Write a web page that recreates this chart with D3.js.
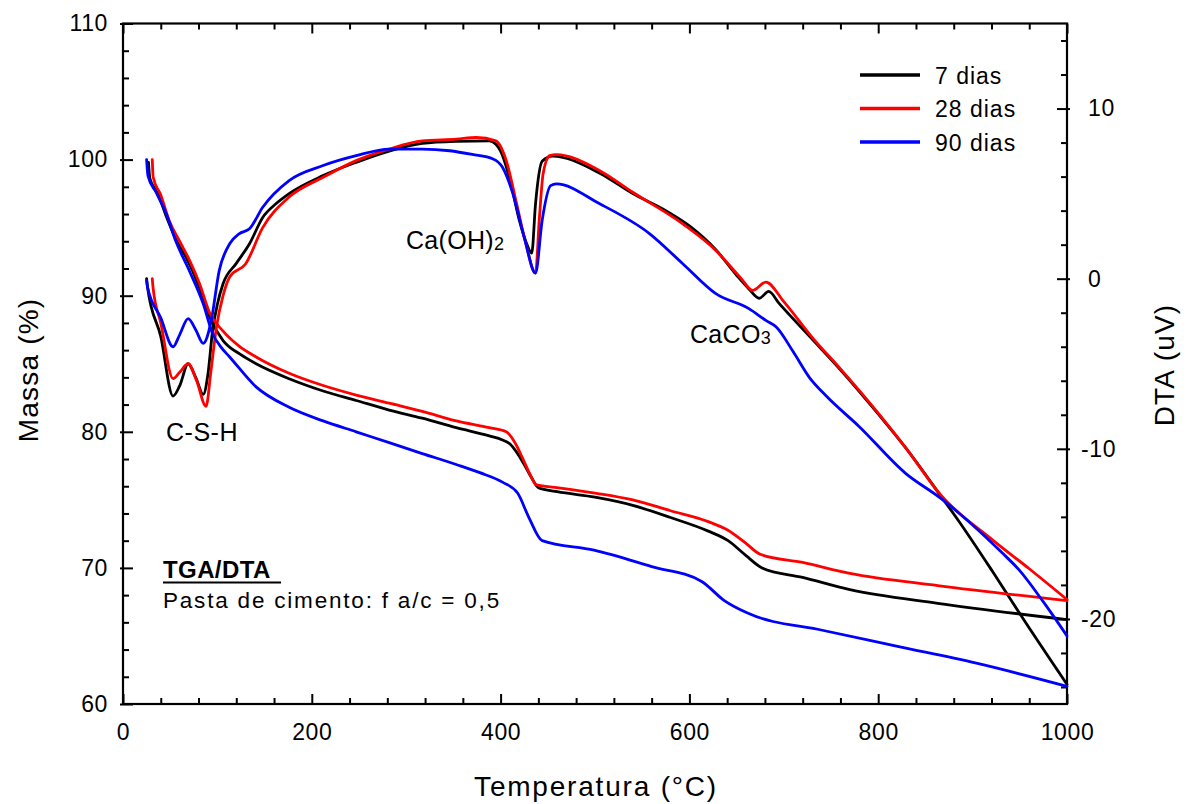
<!DOCTYPE html>
<html><head><meta charset="utf-8">
<script src="https://cdn.jsdelivr.net/npm/d3@7"></script>
<style>
body{margin:0;background:#fff;}
svg{display:block;font-family:"Liberation Sans",Arial,sans-serif;}
</style>
</head><body>
<svg id="c" width="1195" height="804"></svg>
<script>
// ---------- data ----------
const tempTicks = [0, 200, 400, 600, 800, 1000];
const massTicks = [60, 70, 80, 90, 100, 110];
const dtaTicks = [-20, -10, 0, 10];
const seriesNames = ["7 dias", "28 dias", "90 dias"];
const seriesColors = ["#000000", "#ff0000", "#0000ff"];

// TGA: [temperature °C, mass %]
const tga7 = [[27,99.8],[28.5,98.6],[37,97.5],[46,95.8],[57,94.0],[67,92.8],[81,90.6],[92,88.4],[106,86.7],[124,85.7],[141,85.0],[176,83.9],[212,83.0],[247,82.3],[282,81.6],[317,81.0],[353,80.3],[388,79.7],[402,79.4],[410,79.1],[416,78.6],[425,77.6],[433,76.6],[440,75.9],[460,75.6],[500,75.2],[540,74.6],[580,73.7],[620,72.7],[641,72.0],[660,70.9],[677,70.0],[720,69.3],[770,68.4],[863,67.4],[1000,66.2]];
const tga28 = [[31,100],[32,98.7],[40,97.4],[49,95.5],[60,94.0],[70.5,92.6],[81,90.9],[92,88.7],[106,87.4],[123,86.3],[141,85.5],[176,84.3],[212,83.4],[247,82.7],[282,82.1],[317,81.5],[353,80.8],[388,80.3],[406,80.0],[416,79.1],[423,78.1],[431,76.9],[438,76.1],[460,75.9],[500,75.5],[540,75.0],[580,74.2],[620,73.4],[640,72.8],[660,71.8],[675,71.0],[720,70.4],[770,69.6],[863,68.7],[1000,67.6]];
const tga90 = [[25,100],[26.5,98.8],[35,97.6],[46,96.0],[56,94.0],[70.5,91.8],[85,89.4],[95,87.2],[104,86.2],[113,85.5],[141,83.3],[176,81.8],[212,80.8],[247,80.0],[282,79.2],[317,78.4],[353,77.6],[378,77.0],[402,76.3],[418,75.5],[430,73.7],[444,72.0],[499,71.3],[560,70.1],[613,69.0],[637,67.6],[661,66.7],[742,65.4],[823,64.2],[904,63.0],[1000,61.3]];

// DTA: [temperature °C, uV]
const dta7 = [[25,0],[26,-0.5],[40,-3.4],[53,-6.9],[60,-6.3],[69,-5.0],[77,-5.8],[85,-6.8],[90,-5.6],[95,-3.0],[100,-1.5],[106,-0.3],[120,0.9],[134,2.05],[148,3.6],[162,4.4],[176,5.0],[212,6.06],[247,6.84],[282,7.5],[317,7.95],[353,8.07],[388,8.1],[395,7.9],[400,7.5],[410,5.8],[420,3.4],[428,2.0],[433,1.5],[437,4.4],[444,6.9],[455,7.2],[505,6.2],[540,5.0],[575,4.0],[600,3.1],[628,1.7],[650,0.2],[663,-0.6],[674,-1.15],[684,-0.75],[695,-1.45],[730,-3.55],[760,-5.35],[800,-7.95],[830,-10.0],[866,-12.75],[886,-14.3],[921,-17.2],[956,-20.2],[1000,-23.85]];
const dta28 = [[31,0],[32,-0.6],[40,-2.6],[53,-5.87],[60,-5.5],[69,-5.0],[78,-6.0],[88,-7.5],[93,-5.5],[99,-2.84],[106,-1.0],[113,0.1],[130,0.88],[148,3.0],[176,4.8],[212,5.96],[247,6.94],[282,7.62],[317,8.1],[353,8.2],[374,8.3],[395,8.1],[406,6.94],[417,4.4],[427,2.0],[437,0.33],[441,3.5],[445,6.16],[452,7.23],[459,7.29],[505,6.35],[540,5.08],[593,3.22],[628,1.66],[655,0.0],[667,-0.69],[681,-0.2],[700,-1.35],[730,-3.45],[760,-5.3],[800,-7.9],[830,-10.0],[866,-12.7],[921,-15.35],[960,-17.05],[1000,-18.86]];
const dta90 = [[25,-0.1],[26,-0.5],[40,-2.3],[53,-4.0],[60,-3.3],[69,-2.35],[77,-3.0],[85,-3.8],[93,-2.6],[102,0.49],[113,2.05],[123,2.64],[134,2.93],[148,4.2],[176,5.77],[212,6.65],[247,7.23],[282,7.62],[317,7.62],[346,7.52],[370,7.3],[392,7.04],[402,6.55],[413,5.0],[425,2.44],[437,0.33],[444,3.42],[453,5.47],[459,5.57],[505,4.4],[558,2.64],[593,0.88],[628,-0.88],[663,-1.76],[681,-2.45],[692,-2.84],[710,-4.3],[727,-5.8],[745,-6.9],[780,-8.7],[829,-11.44],[866,-12.9],[886,-13.8],[931,-16.1],[949,-17.1],[975,-19.0],[1000,-21.0]];

// ---------- chart ----------
const svg = d3.select("#c");
const L = 123, R = 1067, T = 23.5, B = 704;
const x = d3.scaleLinear().domain([0, 1000]).range([L, R]);
const yM = d3.scaleLinear().domain([60, 110]).range([B, T]);
const yD = d3.scaleLinear().domain([-25, 15]).range([B, T]);
const TICK_FS = 23;

function clean(g) {
  g.select(".domain").remove();
  g.selectAll(".tick line").attr("stroke", "#000").attr("stroke-width", 2);
  g.selectAll(".tick text").attr("fill", "#000").attr("font-size", TICK_FS)
    .attr("font-family", '"Liberation Sans",Arial,sans-serif').attr("letter-spacing", "0.6px");
}

const tMinor = d3.range(0, 1001, 40).filter(v => v % 200 !== 0);
const mMinor = d3.range(60, 111, 2).filter(v => v % 10 !== 0);
const dMinor = d3.range(-24, 15, 2).filter(v => v % 10 !== 0);

// bottom
svg.append("g").attr("transform", `translate(0,${B})`)
  .call(d3.axisBottom(x).tickValues(tempTicks).tickSizeInner(-10).tickSizeOuter(0).tickPadding(20).tickFormat(d => String(d)))
  .call(clean);
svg.append("g").attr("transform", `translate(0,${B})`)
  .call(d3.axisBottom(x).tickValues(tMinor).tickSize(-6).tickFormat(""))
  .call(clean);
// top
svg.append("g").attr("transform", `translate(0,${T})`)
  .call(d3.axisTop(x).tickValues(tempTicks).tickSize(-10).tickFormat(""))
  .call(clean);
svg.append("g").attr("transform", `translate(0,${T})`)
  .call(d3.axisTop(x).tickValues(tMinor).tickSize(-6).tickFormat(""))
  .call(clean);
// left
svg.append("g").attr("transform", `translate(${L},0)`)
  .call(d3.axisLeft(yM).tickValues(massTicks).tickSizeInner(-10).tickSizeOuter(0).tickPadding(15).tickFormat(d => String(d)))
  .call(clean)
  .call(g => g.selectAll(".tick line").attr("x1", -3));
svg.append("g").attr("transform", `translate(${L},0)`)
  .call(d3.axisLeft(yM).tickValues(mMinor).tickSize(-6).tickFormat(""))
  .call(clean);
// right
svg.append("g").attr("transform", `translate(${R},0)`)
  .call(d3.axisRight(yD).tickValues(dtaTicks).tickSizeInner(-10).tickSizeOuter(0).tickPadding(21).tickFormat(d => String(d)))
  .call(clean)
  .call(g => g.selectAll(".tick line").attr("x1", 3))
  .call(g => g.selectAll(".tick text").attr("x", d => d < 0 ? 14 : 21));
svg.append("g").attr("transform", `translate(${R},0)`)
  .call(d3.axisRight(yD).tickValues(dMinor).tickSize(-6).tickFormat(""))
  .call(clean);

// frame
svg.append("rect").attr("x", L).attr("y", T).attr("width", R - L).attr("height", B - T)
  .attr("fill", "none").attr("stroke", "#000").attr("stroke-width", 2.2);

// curves
const lineM = d3.line().x(d => x(d[0])).y(d => yM(d[1])).curve(d3.curveMonotoneX);
const lineD = d3.line().x(d => x(d[0])).y(d => yD(d[1])).curve(d3.curveMonotoneX);
const tgaSets = [tga7, tga28, tga90];
const dtaSets = [dta7, dta28, dta90];
const gLines = svg.append("g").attr("fill", "none").attr("stroke-width", 2.8)
  .attr("stroke-linejoin", "round").attr("stroke-linecap", "round");
for (let i = 0; i < 3; i++) {
  gLines.append("path").attr("d", lineM(tgaSets[i])).attr("stroke", seriesColors[i]);
  gLines.append("path").attr("d", lineD(dtaSets[i])).attr("stroke", seriesColors[i]);
}

// legend
const lg = svg.append("g");
seriesNames.forEach((n, i) => {
  const yy = 75 + 33.5 * i;
  lg.append("line").attr("x1", 860).attr("x2", 920).attr("y1", yy).attr("y2", yy)
    .attr("stroke", seriesColors[i]).attr("stroke-width", 3.5);
  lg.append("text").attr("x", 935).attr("y", yy + 8.5).attr("font-size", 23)
    .attr("letter-spacing", "1px").attr("fill", "#000").text(n);
});

// axis titles
svg.append("text").attr("x", 596).attr("y", 796).attr("text-anchor", "middle")
  .attr("font-size", 28).attr("letter-spacing", "1.8px").text("Temperatura (°C)");
svg.append("text").attr("transform", "translate(38,370) rotate(-90)").attr("text-anchor", "middle")
  .attr("font-size", 28).attr("letter-spacing", "1.2px").text("Massa (%)");
svg.append("text").attr("transform", "translate(1174,365) rotate(-90)").attr("text-anchor", "middle")
  .attr("font-size", 28).attr("letter-spacing", "1.2px").text("DTA (uV)");

// annotations
svg.append("text").attr("x", 166).attr("y", 441).attr("font-size", 25).attr("letter-spacing", "0.5px").text("C-S-H");
const ca = svg.append("text").attr("x", 406).attr("y", 249).attr("font-size", 25).attr("letter-spacing", "0.3px");
ca.append("tspan").text("Ca(OH)");
ca.append("tspan").attr("font-size", 18).attr("dy", 1).text("2");
const cc = svg.append("text").attr("x", 690).attr("y", 343).attr("font-size", 25).attr("letter-spacing", "0.3px");
cc.append("tspan").text("CaCO");
cc.append("tspan").attr("font-size", 18).attr("dy", 1).text("3");

svg.append("text").attr("x", 163).attr("y", 578).attr("font-size", 24)
  .attr("font-weight", "bold").attr("letter-spacing", "0.4px").text("TGA/DTA");
svg.append("line").attr("x1", 163).attr("x2", 281).attr("y1", 582.5).attr("y2", 582.5)
  .attr("stroke", "#000").attr("stroke-width", 2);
svg.append("text").attr("x", 163).attr("y", 608).attr("font-size", 22.5).attr("letter-spacing", "1.8px")
  .text("Pasta de cimento: f a/c = 0,5");
</script>
</body></html>
